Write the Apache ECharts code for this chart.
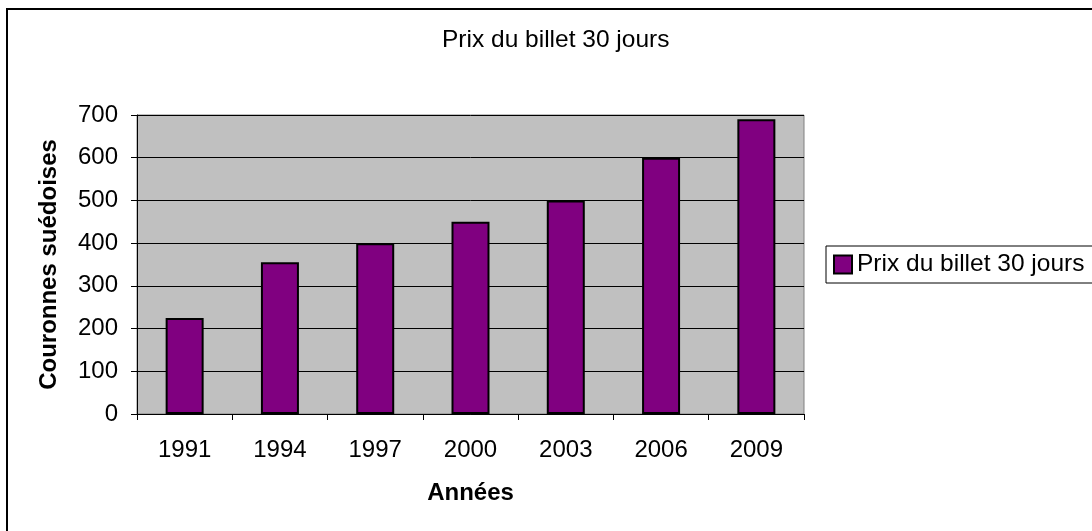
<!DOCTYPE html>
<html>
<head>
<meta charset="utf-8">
<script src="https://cdn.jsdelivr.net/npm/echarts@6/dist/echarts.min.js"></script>
<style>
  html, body { margin: 0; padding: 0; background: #fff; }
  #chart { width: 1092px; height: 531px; }
</style>
</head>
<body>
<div id="chart"></div>
<script>
// Prix du billet 30 jours - histogramme
const annees = ['1991', '1994', '1997', '2000', '2003', '2006', '2009'];
const prix = [225, 355, 400, 450, 500, 600, 690];
const yTicks = [0, 100, 200, 300, 400, 500, 600, 700];

const chart = echarts.init(document.getElementById('chart'));

const option = {
    backgroundColor: '#ffffff',
    animation: false,
    textStyle: { fontFamily: 'Liberation Sans, Arial, sans-serif' },
    title: {
        text: 'Prix du billet 30 jours',
        left: 442,
        top: 28,
        padding: 0,
        textStyle: { color: '#000', fontSize: 24.5, fontWeight: 'normal' }
    },
    legend: {
        data: ['Prix du billet 30 jours'],
        left: 826,
        top: 246,
        orient: 'vertical',
        padding: [6, 60, 6, 7],
        icon: 'rect',
        itemWidth: 18,
        itemHeight: 18,
        itemGap: 0,
        borderColor: '#000',
        borderWidth: 1,
        backgroundColor: '#fff',
        textStyle: { color: '#000', fontSize: 24.5 }
    },
    graphic: [
        {
            type: 'rect',
            shape: { x: 7, y: 9, width: 1200, height: 600 },
            style: { fill: 'none', stroke: '#000', lineWidth: 2 },
            silent: true
        }
    ],
    grid: {
        left: 137,
        top: 115,
        width: 667,
        height: 299,
        show: true,
        backgroundColor: '#c0c0c0',
        borderColor: '#808080',
        borderWidth: 1
    },
    xAxis: {
        type: 'category',
        data: annees,
        name: 'Années',
        nameLocation: 'middle',
        nameGap: 67,
        nameTextStyle: { color: '#000', fontSize: 24, fontWeight: 'bold' },
        axisLine: { lineStyle: { color: '#000', width: 1 } },
        axisTick: { show: true, length: 6, alignWithLabel: false, lineStyle: { color: '#000' } },
        axisLabel: { color: '#000', fontSize: 24, margin: 24 }
    },
    yAxis: {
        type: 'value',
        min: 0,
        max: 700,
        interval: 100,
        name: 'Couronnes suédoises',
        nameLocation: 'middle',
        nameGap: 76,
        nameTextStyle: { color: '#000', fontSize: 24, fontWeight: 'bold' },
        axisLine: { show: true, lineStyle: { color: '#000', width: 1 } },
        axisTick: { show: true, length: 6, lineStyle: { color: '#000' } },
        axisLabel: {
            color: '#000',
            fontSize: 24,
            margin: 19,
            formatter: function (v) {
                return yTicks.indexOf(v) >= 0 ? String(v) : '';
            }
        },
        splitLine: { show: true, lineStyle: { color: '#000', width: 1 } }
    },
    series: [
        {
            name: 'Prix du billet 30 jours',
            type: 'bar',
            data: prix,
            barWidth: 38,
            itemStyle: {
                color: '#800080',
                borderColor: '#000',
                borderWidth: 2
            }
        }
    ]
};

chart.setOption(option);
</script>
</body>
</html>
